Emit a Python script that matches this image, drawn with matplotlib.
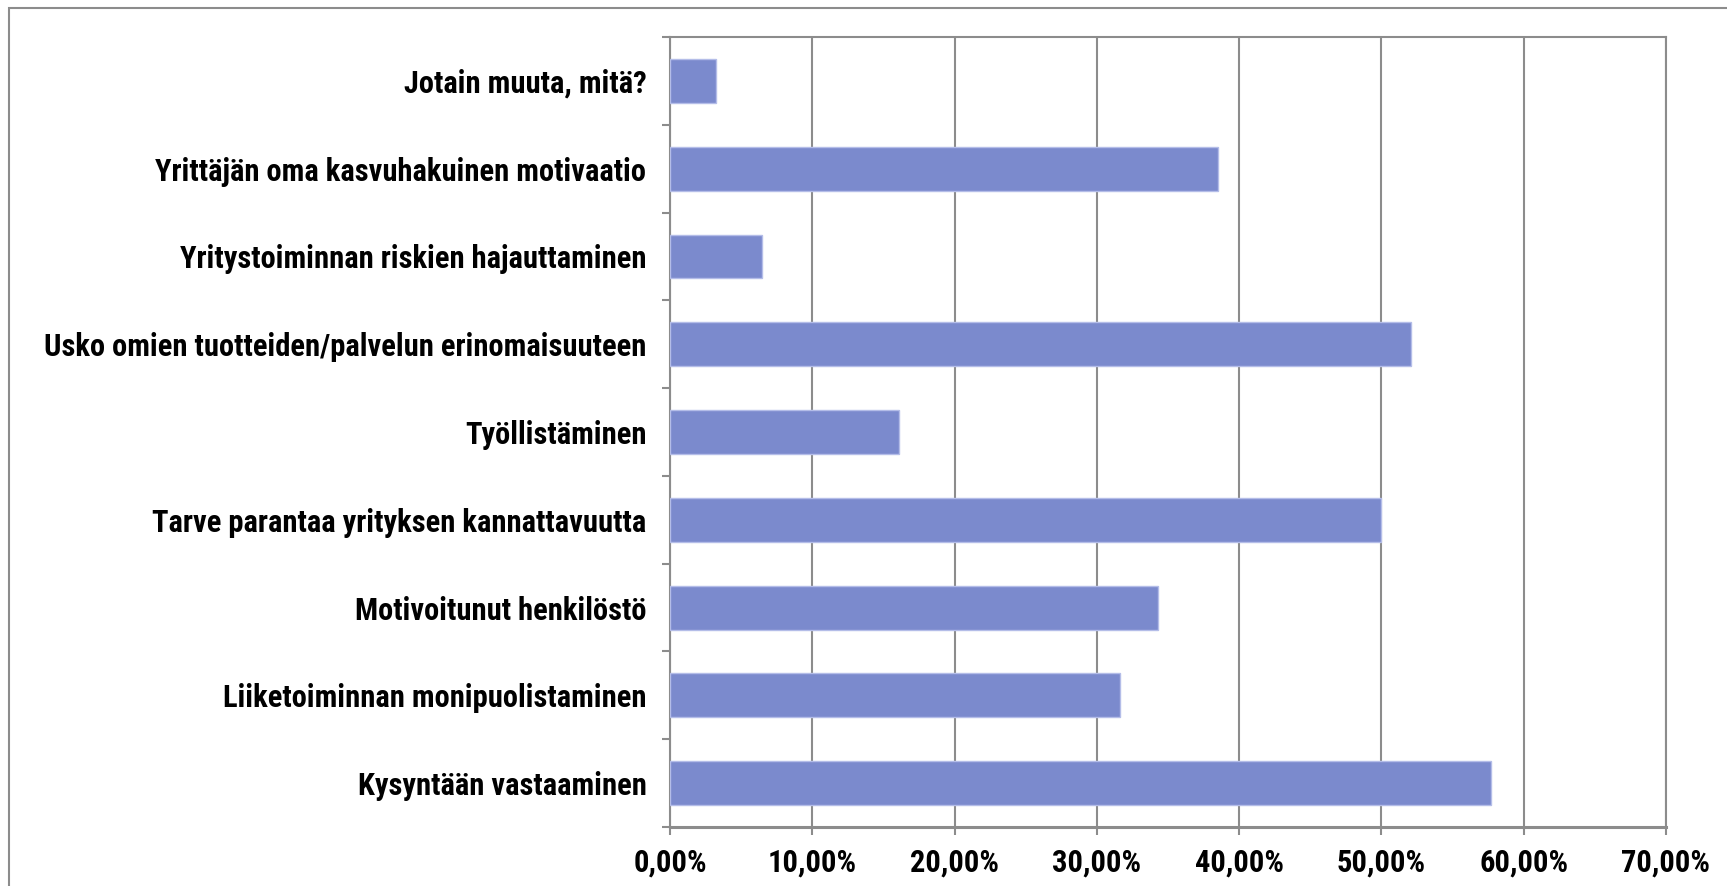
"""Horizontal bar chart: reasons for growth (survey shares)."""

import matplotlib

matplotlib.use("Agg")
import matplotlib.pyplot as plt
from matplotlib import font_manager
from matplotlib.patches import Rectangle
from matplotlib.ticker import FuncFormatter, MultipleLocator

# Categories listed bottom -> top, as drawn.
categories = [
    "Kysyntään vastaaminen",
    "Liiketoiminnan monipuolistaminen",
    "Motivoitunut henkilöstö",
    "Tarve parantaa yrityksen kannattavuutta",
    "Työllistäminen",
    "Usko omien tuotteiden/palvelun erinomaisuuteen",
    "Yritystoiminnan riskien hajauttaminen",
    "Yrittäjän oma kasvuhakuinen motivaatio",
    "Jotain muuta, mitä?",
]
shares = [0.577, 0.316, 0.343, 0.500, 0.161, 0.521, 0.065, 0.385, 0.032]

BAR_COLOR = "#7b8acd"
GRID_COLOR = "#8c8c8c"


def pick_font() -> tuple[str, str]:
    """Prefer a narrow bold sans if one is installed, else Roboto."""
    candidates = [
        ("Noto Sans", "semi-condensed"),
        ("Liberation Sans Narrow", "normal"),
        ("Roboto Condensed", "normal"),
        ("Noto Sans", "condensed"),
        ("Open Sans", "condensed"),
        ("DejaVu Sans", "condensed"),
    ]
    for fam, stretch in candidates:
        try:
            path = font_manager.findfont(
                font_manager.FontProperties(family=fam, weight="bold", stretch=stretch),
                fallback_to_default=False)
        except Exception:
            continue
        if "Narrow" in path or "Condensed" in path:
            return fam, stretch
    return "Roboto", "normal"


FAMILY, STRETCH = pick_font()

plt.rcParams["font.family"] = [FAMILY, "DejaVu Sans"]
plt.rcParams["font.stretch"] = STRETCH
plt.rcParams["font.weight"] = "bold"

fig = plt.figure(figsize=(17.27, 8.86), dpi=100)
ax = fig.add_axes([670 / 1727, 1 - 827 / 886, (1666 - 670) / 1727, (827 - 37) / 886])

# size the text so the longest label is as wide as in the reference (~622 px)
probe = fig.text(0, 0, categories[5], fontsize=20)
w = probe.get_window_extent(fig.canvas.get_renderer()).width
probe.remove()
FS = min(22.0, 20 * 622 / w)

y = list(range(len(categories)))
ax.barh(y, shares, height=0.5, color=BAR_COLOR, edgecolor="#b4bde8", linewidth=1, zorder=3)

ax.set_xlim(0, 0.70)
ax.set_ylim(-0.5, len(categories) - 0.5)
ax.xaxis.set_major_locator(MultipleLocator(0.10))
ax.xaxis.set_major_formatter(FuncFormatter(lambda v, _: f"{v * 100:.2f}%".replace(".", ",")))
ax.grid(axis="x", color=GRID_COLOR, linewidth=1.5, zorder=0)

ax.set_yticks(y)
ax.set_yticklabels(categories)
# category-boundary tick marks, Excel style
ax.set_yticks([i - 0.5 for i in range(len(categories) + 1)], minor=True)
ax.tick_params(axis="y", which="major", length=0, pad=17, labelsize=FS)
ax.tick_params(axis="y", which="minor", length=6, width=1.5, color=GRID_COLOR)
ax.tick_params(axis="x", length=6, width=1.5, color=GRID_COLOR, pad=9, labelsize=FS)

for side in ("left", "top", "right"):
    ax.spines[side].set_color(GRID_COLOR)
    ax.spines[side].set_linewidth(1.5)
ax.spines["bottom"].set_color(GRID_COLOR)
ax.spines["bottom"].set_linewidth(2.2)

# outer chart-area frame (only top/left edges are inside the picture)
fig.patches.append(Rectangle((9 / 1727, -0.05), 1.1, 1 - 8 / 886 + 0.05,
                             transform=fig.transFigure, fill=False,
                             edgecolor="#8c8c8c", linewidth=1.5))

fig.savefig("out.png", dpi=100)
